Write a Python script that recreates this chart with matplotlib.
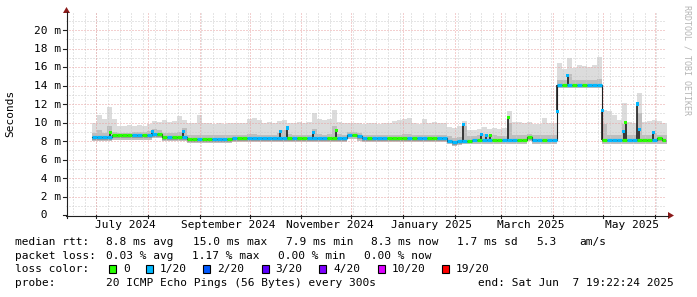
import numpy as np
import pandas as pd
import matplotlib
matplotlib.use("Agg")
import matplotlib.pyplot as plt
import matplotlib.dates as mdates
from matplotlib.lines import Line2D
from matplotlib.patches import Polygon, Rectangle

# ---------------- data ----------------
# consolidated 3-day steps, first step starts 2024-06-28 12:00
step_start = "2024-06-28 12:00"
median_ms = [
    8.45, 8.45, 8.45, 8.45, 8.6, 8.6, 8.6, 8.6, 8.6, 8.6,
    8.6, 8.6, 8.75, 8.75, 8.45, 8.45, 8.45, 8.45, 8.45, 8.2,
    8.2, 8.2, 8.2, 8.2, 8.2, 8.2, 8.2, 8.2, 8.3, 8.3,
    8.3, 8.3, 8.3, 8.3, 8.3, 8.3, 8.3, 8.3, 8.3, 8.3,
    8.3, 8.3, 8.3, 8.3, 8.3, 8.3, 8.3, 8.3, 8.3, 8.3,
    8.3, 8.7, 8.7, 8.5, 8.3, 8.3, 8.3, 8.3, 8.3, 8.3,
    8.3, 8.3, 8.3, 8.3, 8.3, 8.3, 8.3, 8.3, 8.3, 8.3,
    8.3, 8.05, 7.85, 8.0, 8.05, 8.05, 8.15, 8.15, 8.15, 8.15,
    8.15, 8.15, 8.15, 8.15, 8.15, 8.15, 8.15, 8.4, 8.15, 8.15,
    8.15, 8.15, 8.15, 14.1, 14.1, 14.1, 14.1, 14.1, 14.1, 14.1,
    14.1, 14.1, 8.15, 8.15, 8.15, 8.15, 8.15, 8.15, 8.15, 8.15,
    8.15, 8.15, 8.15, 8.35, 8.15,
]
smoke_hi_ms = [
    9.9, 10.8, 10.4, 11.7, 10.4, 9.6, 9.6, 9.7, 9.6, 9.7,
    9.6, 9.8, 10.2, 10.1, 10.3, 10.1, 10.2, 10.7, 10.3, 9.9,
    9.9, 10.8, 9.9, 10.0, 9.8, 9.9, 9.8, 9.9, 9.9, 9.9,
    10.0, 10.4, 10.5, 10.3, 10.0, 10.1, 9.9, 10.2, 10.3, 10.0,
    10.0, 10.1, 10.0, 10.1, 11.0, 10.4, 10.3, 10.4, 11.4, 10.1,
    10.0, 10.0, 10.0, 9.9, 9.8, 9.9, 10.0, 9.8, 9.9, 10.0,
    10.2, 10.3, 10.4, 10.5, 9.9, 9.8, 10.4, 10.0, 10.1, 9.9,
    9.9, 9.5, 9.4, 9.6, 10.2, 9.2, 9.2, 9.3, 9.5, 9.3,
    9.4, 9.3, 9.4, 11.2, 10.1, 10.1, 10.0, 10.1, 9.8, 9.8,
    10.5, 10.0, 10.0, 16.4, 15.8, 17.0, 15.9, 16.2, 16.1, 16.0,
    16.2, 17.1, 11.4, 11.2, 10.8, 10.3, 12.1, 10.1, 10.0, 13.2,
    10.1, 10.2, 10.3, 10.2, 10.0,
]
smoke_mid_ms = [
    8.9, 9.2, 8.9, 9.6, 9.0, 8.9, 8.9, 8.9, 9.0, 9.0,
    9.0, 9.1, 9.3, 9.2, 8.9, 8.9, 8.9, 9.0, 9.4, 8.7,
    8.6, 8.7, 8.6, 8.6, 8.6, 8.6, 8.6, 8.6, 8.7, 8.7,
    8.7, 8.8, 8.8, 8.7, 8.7, 8.7, 8.7, 8.9, 9.2, 8.8,
    8.7, 8.7, 8.7, 8.7, 9.3, 8.8, 8.7, 8.8, 9.6, 8.8,
    8.7, 9.0, 9.0, 8.9, 8.7, 8.7, 8.7, 8.7, 8.7, 8.7,
    8.7, 8.7, 8.8, 8.8, 8.7, 8.7, 8.7, 8.7, 8.7, 8.7,
    8.7, 8.5, 8.3, 8.4, 9.6, 8.5, 8.5, 8.6, 8.8, 8.7,
    8.6, 8.5, 8.5, 10.0, 8.6, 8.6, 8.6, 8.8, 8.6, 8.6,
    8.7, 8.6, 8.6, 14.6, 14.6, 15.2, 14.6, 14.6, 14.6, 14.6,
    14.6, 14.7, 9.8, 8.7, 8.6, 8.6, 9.8, 8.6, 8.6, 11.0,
    8.6, 8.6, 8.9, 8.7, 8.6,
]
smoke_lo_ms = [
    8.0, 8.0, 8.0, 8.0, 8.15, 8.15, 8.15, 8.15, 8.15, 8.15,
    8.15, 8.15, 8.3, 8.3, 8.0, 8.0, 8.0, 8.0, 8.0, 7.8,
    7.8, 7.8, 7.8, 7.8, 7.8, 7.8, 7.8, 7.8, 7.85, 7.85,
    7.85, 7.85, 7.85, 7.85, 7.85, 7.85, 7.85, 7.85, 7.85, 7.85,
    7.85, 7.85, 7.85, 7.85, 7.85, 7.85, 7.85, 7.85, 7.85, 7.85,
    7.85, 8.25, 8.25, 8.05, 7.85, 7.85, 7.85, 7.85, 7.85, 7.85,
    7.85, 7.85, 7.85, 7.85, 7.85, 7.85, 7.85, 7.85, 7.85, 7.85,
    7.85, 7.65, 7.45, 7.6, 7.65, 7.65, 7.7, 7.7, 7.7, 7.7,
    7.7, 7.7, 7.7, 7.7, 7.7, 7.7, 7.7, 7.95, 7.7, 7.7,
    7.7, 7.7, 7.7, 13.7, 13.7, 13.7, 13.7, 13.7, 13.7, 13.7,
    13.7, 13.7, 7.7, 7.7, 7.7, 7.7, 7.7, 7.7, 7.7, 7.7,
    7.7, 7.7, 7.7, 7.7, 7.7,
]
# lost pings (out of 20) per step
loss = [
    1, 1, 1, 1, 0, 0, 0, 0, 1, 1,
    0, 1, 1, 0, 0, 1, 0, 0, 1, 0,
    0, 1, 0, 0, 1, 1, 1, 0, 1, 0,
    0, 1, 1, 1, 1, 1, 1, 1, 1, 0,
    1, 0, 0, 1, 1, 1, 1, 0, 0, 1,
    1, 1, 0, 1, 1, 0, 1, 1, 1, 0,
    0, 0, 0, 1, 0, 1, 1, 0, 0, 1,
    1, 1, 1, 1, 1, 0, 1, 0, 1, 1,
    0, 0, 1, 1, 1, 0, 0, 0, 1, 1,
    0, 1, 1, 1, 0, 1, 0, 1, 0, 1,
    1, 1, 0, 1, 1, 1, 0, 1, 1, 0,
    0, 0, 1, 0, 0,
]
# short median excursions
spike_dates = ["2024-07-09 07:00", "2024-08-03 12:00", "2024-08-22 02:00",
               "2024-10-19 07:00", "2024-10-23 12:00", "2024-11-08 02:00",
               "2024-11-21 22:00", "2025-02-06 02:00", "2025-02-16 22:00",
               "2025-02-20 00:00", "2025-02-22 07:00", "2025-03-05 02:00",
               "2025-04-03 12:00", "2025-04-09 19:00", "2025-04-30 12:00",
               "2025-05-13 12:00", "2025-05-14 17:00", "2025-05-21 14:00",
               "2025-05-22 19:00", "2025-05-31 05:00"]
spike_ms = [8.95, 9.0, 9.0, 9.0, 9.4, 8.9, 9.1, 9.8, 8.7, 8.6, 8.6, 10.5,
            11.2, 15.1, 11.3, 9.0, 10.0, 12.0, 9.2, 8.9]
spike_loss = [0, 1, 1, 1, 1, 1, 0, 1, 1, 1, 0, 0, 1, 1, 1, 1, 0, 1, 1, 1]

y_ticks = [0, 2, 4, 6, 8, 10, 12, 14, 16, 18, 20]
y_tick_labels = [" 0", " 2 m", " 4 m", " 6 m", " 8 m", "10 m", "12 m", "14 m",
                 "16 m", "18 m", "20 m"]
month_labels = ["July 2024", "September 2024", "November 2024",
                "January 2025", "March 2025", "May 2025"]
month_label_dates = ["2024-07-01", "2024-09-01", "2024-11-01",
                     "2025-01-01", "2025-03-01", "2025-05-01"]

loss_levels = ["0", "1/20", "2/20", "3/20", "4/20", "10/20", "19/20"]
loss_colors = ["#26ff00", "#00b8ff", "#0059ff", "#5e00ff", "#7e00ff", "#dd00ff", "#ff0000"]

rtt_stats = ["8.8 ms avg", "15.0 ms max", "7.9 ms min", "8.3 ms now", "1.7 ms sd", "5.3", "am/s"]
loss_stats = ["0.03 % avg", "1.17 % max", "0.00 % min", "0.00 % now"]
probe_text = "20 ICMP Echo Pings (56 Bytes) every 300s"
end_text = "end: Sat Jun  7 19:22:24 2025"

# ---------------- figure ----------------
W, H = 697, 297
fig = plt.figure(figsize=(W / 100, H / 100), dpi=100)
fig.patch.set_facecolor("white")
MONO = "DejaVu Sans Mono"


def P(x, y):
    return (x / W, 1 - y / H)


end = pd.Timestamp("2025-06-07 19:22:24")
start = end - pd.Timedelta(days=360)
PX_PER_MS = 9.25

ax = fig.add_axes([66 / W, 1 - 215 / H, 600 / W, 202 / H])
ax.set_xlim(mdates.date2num(start), mdates.date2num(end))
ax.set_ylim(0, 202 / PX_PER_MS)
ax.axis("off")

n = len(median_ms)
edges = pd.date_range(step_start, periods=n + 1, freq="3D")
ex = mdates.date2num(edges)
med = np.array(median_ms)


def ext(a):
    a = np.asarray(a, float)
    return np.append(a, a[-1])


# smoke
ax.fill_between(ex, ext(smoke_lo_ms), ext(smoke_hi_ms), step="post",
                color="#dcdcdc", lw=0, zorder=1)
ax.fill_between(ex, ext(smoke_lo_ms), ext(smoke_mid_ms), step="post",
                color="#bebebe", lw=0, zorder=1.1)
ax.fill_between(ex, ext(med - 0.3), ext(med), step="post",
                color="#9a9a9a", lw=0, zorder=1.2)

# grid
dash = (0, (1, 2))
for v in range(1, 22):
    if v % 2 == 1:
        ax.axhline(v, color="#cccccc", lw=0.72, ls=dash, zorder=2)
for d in pd.date_range("2024-06-17", "2025-06-07", freq="W-MON"):
    ax.axvline(mdates.date2num(d), color="#cccccc", lw=0.72, ls=dash, zorder=2)
for v in y_ticks[1:]:
    ax.axhline(v, color="#e8a0a0", lw=0.72, ls=dash, zorder=2.1)
for d in pd.date_range("2024-07-01", "2025-06-07", freq="MS"):
    ax.axvline(mdates.date2num(d), color="#e8a0a0", lw=0.72, ls=dash, zorder=2.1)

# median line (black)
ax.step(ex, ext(med), where="post", color="#202020", lw=0.8, zorder=3)

# spikes
sd = mdates.date2num(pd.to_datetime(spike_dates))
idx = np.clip(np.searchsorted(ex, sd, side="right") - 1, 0, n - 1)
base = med[idx]
ax.vlines(sd, base, spike_ms, color="#202020", lw=1.2, zorder=3)

# loss-coloured median band
cmap = {0: loss_colors[0], 1: loss_colors[1]}
ax.hlines(med, ex[:-1], ex[1:], colors=[cmap[l] for l in loss], lw=2.3, zorder=4)
ax.scatter(sd, spike_ms, marker="s", s=5, c=[cmap[l] for l in spike_loss],
           linewidths=0, zorder=5)

# ---------------- axes lines / arrows ----------------
axis_col = "#202020"
arrow_col = "#8b1a1a"
fig.add_artist(Line2D([66 / W, 668 / W], [1 - 215.5 / H] * 2, color=axis_col, lw=0.8))
fig.add_artist(Line2D([66.5 / W] * 2, [1 - 218 / H, 1 - 12 / H], color=axis_col, lw=0.8))
fig.add_artist(Polygon([P(668, 212), P(674, 215.5), P(668, 219)], closed=True,
                       transform=fig.transFigure, color=arrow_col, lw=0))
fig.add_artist(Polygon([P(63, 13), P(66.5, 7), P(70, 13)], closed=True,
                       transform=fig.transFigure, color=arrow_col, lw=0))

# y ticks and labels
for v, lab in zip(y_ticks, y_tick_labels):
    yp = 215 - v * PX_PER_MS
    fig.add_artist(Line2D([63 / W, 66 / W], [1 - yp / H] * 2, color=axis_col, lw=0.8))
    fig.text(34 / W, 1 - (yp + 3.5) / H, lab, family=MONO, size=8, ha="left",
             va="baseline")

# x ticks at month starts
for d in pd.date_range("2024-07-01", "2025-06-07", freq="MS"):
    xd = mdates.date2num(d)
    xp = ax.transData.transform((xd, 0))[0]
    fig.add_artist(Line2D([xp / W] * 2, [1 - 215 / H, 1 - 218 / H], color=axis_col, lw=0.8))

for lab, d in zip(month_labels, month_label_dates):
    xd = mdates.date2num(pd.Timestamp(d) + pd.Timedelta(days=17.4))
    xp = ax.transData.transform((xd, 0))[0]
    fig.text(xp / W, 1 - 227.5 / H, lab, family=MONO, size=8, ha="center",
             va="baseline")

# y axis title
fig.text(10.7 / W, 1 - 113.5 / H, "Seconds", family=MONO, size=8, rotation=90,
         ha="center", va="center")

# watermark
fig.text(687.5 / W, 1 - 60 / H, "RRDTOOL / TOBI OETIKER", family=MONO, size=6,
         rotation=270, ha="center", va="center", color="#b4b4b4")

# ---------------- legend ----------------
def t(x, base, s):
    fig.text(x / W, 1 - base / H, s, family=MONO, size=8, ha="left", va="baseline")


t(15, 245, "median rtt:")
for x, s in zip([106, 193, 285.5, 371, 457, 536.5, 579], rtt_stats):
    t(x, 245, s)
t(15, 258.7, "packet loss:")
for x, s in zip([106, 192.5, 278.5, 364], loss_stats):
    t(x, 258.7, s)
t(15, 272.3, "loss color:")
sw_x = [109, 145.7, 203.3, 261.7, 319.3, 377.7, 442.3]
lab_x = [123, 159.7, 217.3, 275.7, 333, 391.7, 455.7]
for sx, lx, c, s in zip(sw_x, lab_x, loss_colors, loss_levels):
    fig.add_artist(Rectangle((sx / W, 1 - 273 / H), 7 / W, 8 / H,
                             transform=fig.transFigure, facecolor=c,
                             edgecolor="black", lw=0.8))
    t(lx, 272.3, s)
t(15, 286, "probe:")
t(106, 286, probe_text)
t(477.5, 286, end_text)

fig.savefig("out.png", dpi=100, facecolor="white")
